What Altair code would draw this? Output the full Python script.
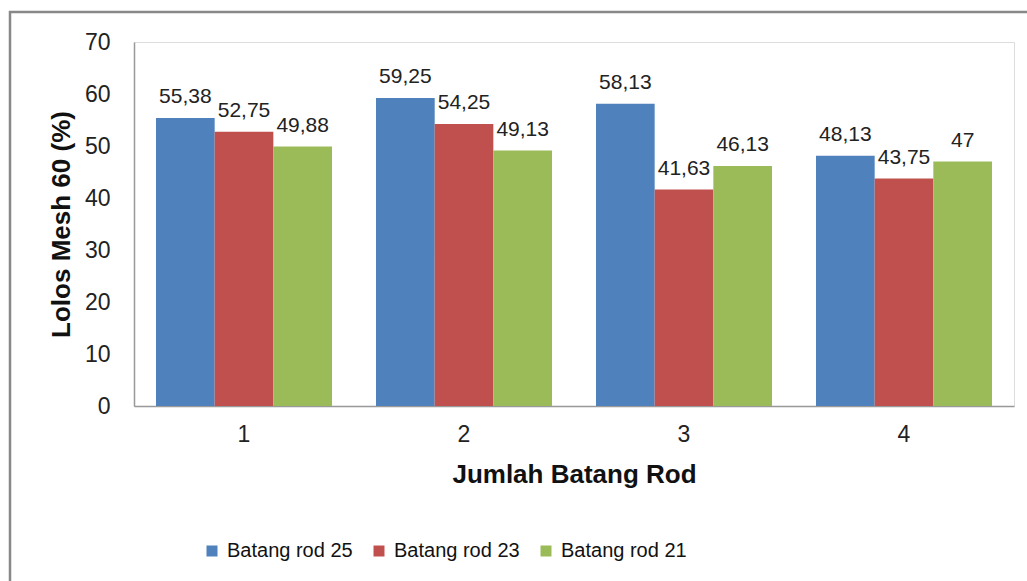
import altair as alt
import pandas as pd

groups = ["1", "2", "3", "4"]
series = ["Batang rod 25", "Batang rod 23", "Batang rod 21"]
rod25 = [55.38, 59.25, 58.13, 48.13]
rod23 = [52.75, 54.25, 41.63, 43.75]
rod21 = [49.88, 49.13, 46.13, 47]
colors = ["#4F81BD", "#C0504D", "#9BBB59"]

rows = []
for s, vals in zip(series, [rod25, rod23, rod21]):
    for g, v in zip(groups, vals):
        lab = ("%g" % v).replace(".", ",")
        if "," in lab and len(lab.split(",")[1]) == 1:
            lab = lab + "0"
        rows.append({"group": g, "series": s, "value": v, "label": lab})
df = pd.DataFrame(rows)

FONT = "Liberation Sans"

x = alt.X("group:N", sort=groups, title="Jumlah Batang Rod",
          scale=alt.Scale(paddingInner=0.2, paddingOuter=0.1),
          axis=alt.Axis(labelAngle=0, labelFontSize=23, labelFont=FONT, labelColor="#222",
                        labelPadding=17, ticks=False, domainColor="#999", domainWidth=1.5,
                        titleFontSize=26, titleFont=FONT, titleFontWeight="bold",
                        titleColor="#111", titlePadding=15))
y = alt.Y("value:Q", title="Lolos Mesh 60 (%)",
          scale=alt.Scale(domain=[0, 70]),
          axis=alt.Axis(values=list(range(0, 71, 10)), grid=False, ticks=False,
                        labelFontSize=23, labelFont=FONT, labelColor="#222", labelPadding=24,
                        domainColor="#999", domainWidth=1.5,
                        titleFontSize=26, titleFont=FONT, titleFontWeight="bold",
                        titleColor="#111", titlePadding=10))
xo = alt.XOffset("series:N", sort=series)

bars = alt.Chart(df).mark_bar().encode(
    x=x, y=y, xOffset=xo,
    color=alt.Color("series:N", sort=series,
                    scale=alt.Scale(domain=series, range=colors),
                    legend=alt.Legend(title=None, orient="none", direction="horizontal",
                                      legendX=68, legendY=499,
                                      symbolType="square", symbolSize=121,
                                      symbolStrokeWidth=0, labelFontSize=20, labelFont=FONT,
                                      labelColor="#111", columnPadding=16, labelOffset=5)),
)

text = alt.Chart(df).mark_text(dy=-15, baseline="alphabetic", fontSize=21, font=FONT,
                               color="#222").encode(
    x=alt.X("group:N", sort=groups), y="value:Q", xOffset=xo, text="label:N"
)

border = alt.Chart(pd.DataFrame({"a": [0]})).mark_rect(
    fill=None, stroke="#888", strokeWidth=2.5
).encode(x=alt.value(-124), x2=alt.value(1027 - 134 + 20),
         y=alt.value(-30), y2=alt.value(581 - 42 + 20))

chart = alt.layer(border, bars, text).properties(
    width=880, height=364,
    padding={"left": 134, "top": 42, "right": 13, "bottom": 175},
    autosize=alt.AutoSizeParams(type="none"),
).configure_view(stroke=None).configure(background="white")

chart.save("out.html", embed_options={"renderer": "svg", "actions": False})
